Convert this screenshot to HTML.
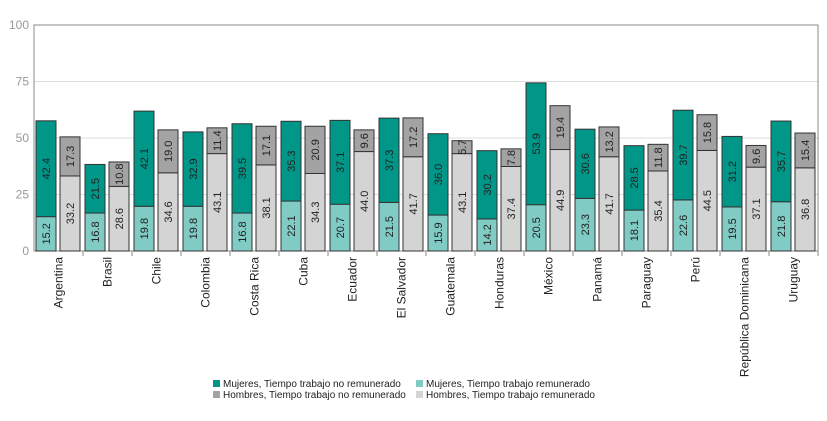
<!DOCTYPE html>
<html><head><meta charset="utf-8"><style>
body{margin:0;background:#fff;font-family:"Liberation Sans",sans-serif}
svg text{font-family:"Liberation Sans",sans-serif}
</style></head><body>
<svg id="c" width="827" height="416" xmlns="http://www.w3.org/2000/svg"></svg>
<script>
const categories=["Argentina","Brasil","Chile","Colombia","Costa Rica","Cuba","Ecuador","El Salvador","Guatemala","Honduras","México","Panamá","Paraguay","Perú","República Dominicana","Uruguay"];
const womenPaid=[15.2,16.8,19.8,19.8,16.8,22.1,20.7,21.5,15.9,14.2,20.5,23.3,18.1,22.6,19.5,21.8];
const womenUnpaid=[42.4,21.5,42.1,32.9,39.5,35.3,37.1,37.3,36.0,30.2,53.9,30.6,28.5,39.7,31.2,35.7];
const menPaid=[33.2,28.6,34.6,43.1,38.1,34.3,44.0,41.7,43.1,37.4,44.9,41.7,35.4,44.5,37.1,36.8];
const menUnpaid=[17.3,10.8,19.0,11.4,17.1,20.9,9.6,17.2,5.7,7.8,19.4,13.2,11.8,15.8,9.6,15.4];
const yTicks=[0,25,50,75,100];
const svg=document.getElementById('c');const NS='http://www.w3.org/2000/svg';
const L=34,R=818,T=25,B=251;
const y=v=>B-(B-T)*v/100;
const gw=(R-L)/categories.length;
const x=i=>L+i*gw;
function el(t,a,p){const e=document.createElementNS(NS,t);for(const k in a)e.setAttribute(k,a[k]);(p||svg).appendChild(e);return e;}
yTicks.forEach(v=>{
 if(v>0&&v<100){const g=el('line',{x1:L,x2:R,y1:y(v),y2:y(v),stroke:'#ddd','stroke-width':1});
 
 }
 const t=el('text',{x:L-5,y:y(v)+4,'text-anchor':'end','font-size':12,fill:'#999'});t.textContent=v;
 
 
});
const fr=el('rect',{x:L,y:T,width:R-L,height:B-T,fill:'none',stroke:'#888'});


function seg(bx,v0,v1,fill,name,tcol){
 const r=el('rect',{x:bx,y:y(v1),width:20,height:y(v0)-y(v1),fill:fill,stroke:'#333','stroke-width':1});
 
 
 const v=(v1-v0);const cx=bx+10,cy=(y(v0)+y(v1))/2;
 const t=el('text',{x:cx,y:cy,'font-size':11,fill:tcol,'text-anchor':'middle',transform:`rotate(-90 ${cx} ${cy})`,dy:4});
 t.textContent=v.toFixed(1);
 
 
}
categories.forEach((c,i)=>{
 const gx=x(i);
 seg(gx+2,0,womenPaid[i],'#80cbc4','bar-women-paid','#222');
 seg(gx+2,womenPaid[i],womenPaid[i]+womenUnpaid[i],'#009688','bar-women-unpaid','#222');
 seg(gx+26,0,menPaid[i],'#d4d4d4','bar-men-paid','#222');
 seg(gx+26,menPaid[i],menPaid[i]+menUnpaid[i],'#a3a3a3','bar-men-unpaid','#222');
 const tk=el('line',{x1:gx+gw,x2:gx+gw,y1:B,y2:B+5,stroke:'#888'});
 
 
 const lx=gx+gw/2+4,ly=B+6;
 const t=el('text',{x:lx,y:ly,'font-size':12,fill:'#222','text-anchor':'end',transform:`rotate(-90 ${lx} ${ly})`});
 t.textContent=c;
 
 
});
const legend=[["Mujeres, Tiempo trabajo no remunerado","#009688",213,387],["Mujeres, Tiempo trabajo remunerado","#80cbc4",416,387],["Hombres, Tiempo trabajo no remunerado","#a3a3a3",213,398],["Hombres, Tiempo trabajo remunerado","#d4d4d4",416,398]];
legend.forEach(l=>{
 const g=el('g',{});
 
 
 el('rect',{x:l[2],y:l[3]-7,width:7,height:7,fill:l[1]},g);
 const t=el('text',{x:l[2]+10,y:l[3],'font-size':10,fill:'#222'},g);t.textContent=l[0];
});
</script>
</body></html>
